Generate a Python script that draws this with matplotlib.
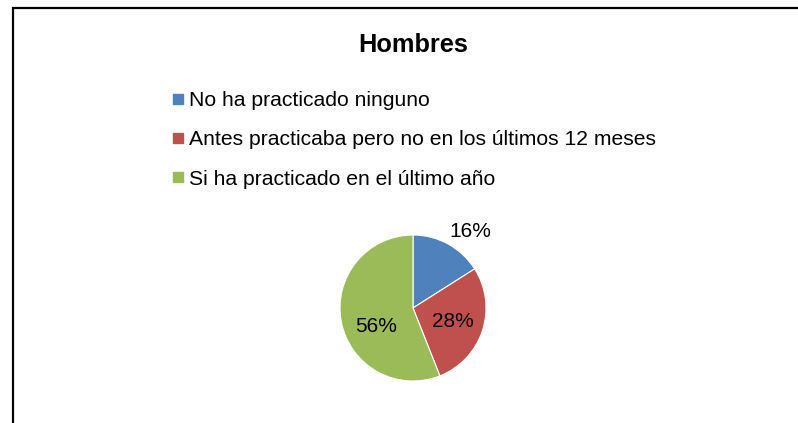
import matplotlib.pyplot as plt
from matplotlib.lines import Line2D
from matplotlib.patches import Rectangle

categories = [
    "No ha practicado ninguno",
    "Antes practicaba pero no en los últimos 12 meses",
    "Si ha practicado en el último año",
]
shares = [16, 28, 56]
colors = ["#4F81BD", "#C0504D", "#9BBB59"]
title = "Hombres"

plt.rcParams["font.family"] = ["Liberation Sans", "DejaVu Sans"]

W, H = 798, 423
fig = plt.figure(figsize=(W / 100, H / 100), dpi=100)
fig.patch.set_facecolor("white")

# chart-area border (only top and left edges visible in the crop)
fig.patches.append(Rectangle((13 / W, -0.2), 1.2, 1.2 - 8 / H,
                             transform=fig.transFigure, fill=False,
                             edgecolor="black", linewidth=1.6))

fig.text(413 / W, 1 - 45 / H, title, ha="center", va="center",
         fontsize=18.3, fontweight="bold")

# pie: centre (413, 308) px, radius 73 px
cx, cy, r = 413, 308, 73
ax = fig.add_axes([(cx - r) / W, (H - cy - r) / H, 2 * r / W, 2 * r / H])
wedges, texts, autotexts = ax.pie(
    shares, colors=colors, startangle=90, counterclock=False,
    autopct="%1.0f%%", pctdistance=0.58,
    wedgeprops=dict(edgecolor="white", linewidth=0.8),
    textprops=dict(fontsize=15, color="black"))
ax.set_xlim(-1, 1)
ax.set_ylim(-1, 1)
ax.axis("off")

# Excel-style label placement (in pie radii)
label_pos = [(0.78, 1.05), (0.55, -0.18), (-0.50, -0.25)]
for t, (x, y) in zip(autotexts, label_pos):
    t.set_position((x, y))
    t.set_ha("center")
    t.set_va("center")

handles = [Line2D([], [], linestyle="none", marker="s", markersize=7.5,
                  markerfacecolor=c, markeredgecolor=c) for c in colors]
fig.legend(handles, categories, loc="upper left",
           bbox_to_anchor=(173 / W, 1 - 91 / H), frameon=False,
           fontsize=15.2, handlelength=0.45, handletextpad=0.33,
           labelspacing=0.96, borderpad=0, borderaxespad=0)

fig.savefig("out.png", dpi=100, facecolor="white")
